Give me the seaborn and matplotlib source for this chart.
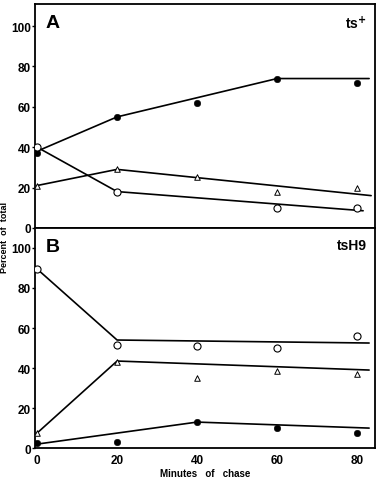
import numpy as np
import pandas as pd
import seaborn as sns
import matplotlib.pyplot as plt

sns.set_style("ticks")
plt.rcParams["font.family"] = ["Liberation Sans", "DejaVu Sans"]
plt.rcParams["font.weight"] = "bold"
plt.rcParams["text.color"] = "black"
plt.rcParams["xtick.color"] = "black"
plt.rcParams["ytick.color"] = "black"

# measured points (minutes of chase)
minutes = [0, 20, 40, 60, 80]
a_filled = [37, 55, 62, 74, 72]
a_open = [40, 18, None, 10, 10]
a_tri = [21, 29, 25, 18, 20]
b_open = [89.5, 51.5, 51, 50, 56]
b_tri = [7.5, 43, 35, 38.5, 37]
b_filled = [2.5, 3, 13, 10, 7.5]

# hand-drawn fit lines (vertices)
a_filled_fit = ([0, 20, 60, 83], [38, 55, 74, 74])
a_open_fit = ([0, 20, 81.5], [40, 18, 8.5])
a_tri_fit = ([0, 20, 83.5], [21, 29, 16])
b_open_fit = ([0, 20, 83], [89.5, 54, 52.5])
b_tri_fit = ([0, 20, 83], [7.5, 43.5, 39])
b_filled_fit = ([0, 40, 83], [2, 13, 10])

fig = plt.figure(figsize=(3.77, 4.85), dpi=100)
ax_a = fig.add_axes([0.093, 0.528, 0.902, 0.462])
ax_b = fig.add_axes([0.093, 0.074, 0.902, 0.454])


def draw(ax, fits, series):
    for fx, fy in fits:
        sns.lineplot(x=fx, y=fy, sort=False, estimator=None, color="black",
                     linewidth=1.2, ax=ax)
    for vals, kind in series:
        df = pd.DataFrame({"min": minutes, "pct": vals}).dropna()
        if kind == "filled":
            sns.scatterplot(data=df, x="min", y="pct", marker="o", s=22,
                            color="black", edgecolor="black", zorder=3, ax=ax)
        elif kind == "open":
            sns.scatterplot(data=df, x="min", y="pct", marker="o", s=26,
                            facecolor="white", edgecolor="black",
                            linewidth=0.8, zorder=3, ax=ax)
        else:
            sns.scatterplot(data=df, x="min", y="pct", marker="^", s=16,
                            facecolor="white", edgecolor="black",
                            linewidth=0.7, zorder=3, ax=ax)


draw(ax_a, [a_filled_fit, a_open_fit, a_tri_fit],
     [(a_filled, "filled"), (a_open, "open"), (a_tri, "tri")])
draw(ax_b, [b_open_fit, b_tri_fit, b_filled_fit],
     [(b_open, "open"), (b_tri, "tri"), (b_filled, "filled")])

for ax, top in [(ax_a, 111), (ax_b, 110)]:
    ax.set_xlim(-0.5, 84.5)
    ax.set_ylim(0, top)
    ax.set_yticks([0, 20, 40, 60, 80, 100])
    ax.set_xticks([0, 20, 40, 60, 80])
    ax.set(xlabel="", ylabel="")
    for sp in ax.spines.values():
        sp.set_visible(True)
        sp.set_linewidth(1.3)
        sp.set_color("black")
    ax.tick_params(axis="y", length=2, width=1, pad=1, labelsize=8.5)
    ax.tick_params(axis="x", length=0, pad=4, labelsize=8.5)
    for lab in ax.get_yticklabels() + ax.get_xticklabels():
        lab.set_fontweight("bold")

ax_a.set_xticklabels([])

ax_a.text(0.03, 0.955, "A", transform=ax_a.transAxes, fontsize=14,
          fontweight="bold", va="top", ha="left")
ax_b.text(0.03, 0.955, "B", transform=ax_b.transAxes, fontsize=14,
          fontweight="bold", va="top", ha="left")
ax_a.text(0.975, 0.955, r"ts$^{\mathbf{+}}$", transform=ax_a.transAxes,
          fontsize=10, fontweight="bold", va="top", ha="right")
ax_b.text(0.975, 0.955, "tsH9", transform=ax_b.transAxes, fontsize=10,
          fontweight="bold", va="top", ha="right")

fig.text(0.012, 0.511, "Percent  of  total", rotation=90, fontsize=6.5,
         fontweight="bold", ha="center", va="center")
fig.text(0.543, 0.023, "Minutes   of   chase", fontsize=7,
         fontweight="bold", ha="center", va="center")

fig.savefig("out.png", dpi=100)
